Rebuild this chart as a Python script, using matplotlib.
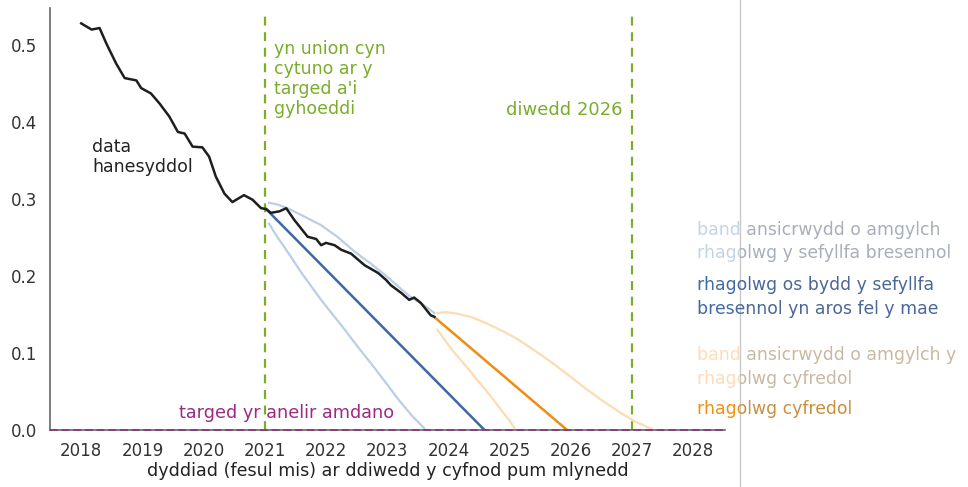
import matplotlib
matplotlib.use('Agg')
import matplotlib.pyplot as plt
from matplotlib.transforms import Bbox

# historical monthly data
hist_year = [2018.00, 2018.17, 2018.30, 2018.41, 2018.57, 2018.71, 2018.90, 2018.98,
             2019.14, 2019.28, 2019.44, 2019.58, 2019.69, 2019.82, 2019.98, 2020.09,
             2020.20, 2020.34, 2020.47, 2020.66, 2020.80, 2020.94, 2021.02, 2021.10,
             2021.24, 2021.35, 2021.48, 2021.70, 2021.84, 2021.92, 2022.00, 2022.14,
             2022.25, 2022.41, 2022.63, 2022.85, 2022.98, 2023.06, 2023.23, 2023.36,
             2023.44, 2023.55, 2023.71, 2023.77]
hist_val = [0.528, 0.520, 0.522, 0.502, 0.476, 0.457, 0.454, 0.444,
            0.437, 0.424, 0.407, 0.387, 0.385, 0.368, 0.367, 0.355,
            0.329, 0.307, 0.296, 0.305, 0.299, 0.288, 0.287, 0.282,
            0.284, 0.288, 0.273, 0.251, 0.248, 0.240, 0.243, 0.240,
            0.234, 0.229, 0.214, 0.204, 0.195, 0.188, 0.178, 0.169,
            0.172, 0.165, 0.149, 0.147]

# projection if things stay as they are (from 2021)
proj21_year = [2021.02, 2024.59]
proj21_val = [0.287, 0.0]
band21_hi_year = [2021.07, 2021.20, 2021.37, 2021.60, 2021.92, 2022.20, 2022.46,
                  2022.75, 2023.00, 2023.20, 2023.38, 2023.60, 2023.77]
band21_hi_val = [0.295, 0.293, 0.288, 0.279, 0.266, 0.250, 0.232,
                 0.215, 0.199, 0.185, 0.173, 0.162, 0.152]
band21_lo_year = [2021.07, 2021.20, 2021.35, 2021.60, 2021.92, 2022.10, 2022.27,
                  2022.50, 2022.75, 2023.00, 2023.19, 2023.40, 2023.63]
band21_lo_val = [0.268, 0.251, 0.234, 0.204, 0.169, 0.151, 0.134,
                 0.110, 0.085, 0.059, 0.039, 0.019, 0.0]

# current projection
proj_year = [2023.78, 2025.94]
proj_val = [0.146, 0.0]
band_hi_year = [2023.82, 2023.96, 2024.15, 2024.40, 2024.61, 2024.90, 2025.15, 2025.45,
                2025.70, 2026.00, 2026.24, 2026.50, 2026.78, 2027.05, 2027.36]
band_hi_val = [0.152, 0.153, 0.151, 0.146, 0.139, 0.128, 0.117, 0.101,
               0.087, 0.069, 0.054, 0.039, 0.024, 0.011, 0.0]
band_lo_year = [2023.82, 2023.95, 2024.06, 2024.20, 2024.34, 2024.48, 2024.61,
                2024.75, 2024.88, 2025.00, 2025.10]
band_lo_val = [0.130, 0.116, 0.104, 0.091, 0.078, 0.064, 0.052,
               0.038, 0.024, 0.012, 0.0]

years = list(range(2018, 2029))
yticks = [0.0, 0.1, 0.2, 0.3, 0.4, 0.5]

plt.rcParams['font.family'] = ['DejaVu Sans']

fig = plt.figure(figsize=(9.68, 4.87), dpi=100)
ax = fig.add_axes([50 / 968, 57 / 487, 675 / 968, 422 / 487])

green = '#7aad2a'
ax.axvline(2021, ymax=0.985, color=green, lw=1.6, ls=(0, (4, 3)))
ax.axvline(2027, ymax=0.985, color=green, lw=1.6, ls=(0, (4, 3)))

ax.plot(band21_hi_year, band21_hi_val, color='#bccee6', lw=1.6)
ax.plot(band21_lo_year, band21_lo_val, color='#bccee6', lw=1.6)
ax.plot(proj21_year, proj21_val, color='#3d68a6', lw=1.8)
ax.plot(band_hi_year, band_hi_val, color='#fcdcb2', lw=1.6)
ax.plot(band_lo_year, band_lo_val, color='#fcdcb2', lw=1.6)
ax.plot(proj_year, proj_val, color='#ef8c12', lw=1.8)
ax.plot(hist_year, hist_val, color='#1e1e1e', lw=1.8)

ax.set_xlim(2017.49, 2028.52)
ax.set_ylim(0, 0.548)
ax.axhline(0, color='#8c3d7c', lw=1.4, ls=(0, (4, 2)), zorder=5, clip_on=False)

ax.set_xticks(years)
ax.set_yticks(yticks)
ax.set_yticklabels([f'{v:.1f}' for v in yticks])
ax.tick_params(length=0, labelsize=12, colors='#333333', pad=9)
for s in ['top', 'right']:
    ax.spines[s].set_visible(False)
ax.spines['left'].set_color('#666666')
ax.spines['bottom'].set_color('#666666')
ax.spines['left'].set_linewidth(1.2)
ax.spines['bottom'].set_linewidth(1.2)
ax.set_xlabel('dyddiad (fesul mis) ar ddiwedd y cyfnod pum mlynedd',
              fontsize=12.6, color='#222222', labelpad=1)

ax.text(2018.18, 0.355, 'data\nhanesyddol', fontsize=12.5, color='#222222',
        va='center', linespacing=1.15)
ax.text(2021.15, 0.456, "yn union cyn\ncytuno ar y\ntarged a'i\ngyhoeddi",
        fontsize=12.5, color=green, va='center', linespacing=1.15)
ax.text(2026.85, 0.415, 'diwedd 2026', fontsize=13, color=green,
        va='center', ha='right')
ax.text(2019.6, 0.022, 'targed yr anelir amdano', fontsize=12.7,
        color='#9c2a84', va='center')

# separator line on the right
fig.add_artist(plt.Line2D([740 / 968, 740 / 968], [0, 1], color='#c8c8c8', lw=1))

# legend texts, coloured differently either side of the separator
H = 487
W = 968
left_box = Bbox([[0, 0], [740, H]])
right_box = Bbox([[740, 0], [W, H]])
legend_lines = [
    ('band ansicrwydd o amgylch', 230, '#c3d3e8', '#a8afba'),
    ('rhagolwg y sefyllfa bresennol', 253, '#c3d3e8', '#a8afba'),
    ('rhagolwg os bydd y sefyllfa', 285, '#3f6ba8', '#4a679a'),
    ('bresennol yn aros fel y mae', 309, '#3f6ba8', '#4a679a'),
    ('band ansicrwydd o amgylch y', 355, '#fddcb8', '#c9b8a2'),
    ('rhagolwg cyfredol', 379, '#fddcb8', '#c9b8a2'),
    ('rhagolwg cyfredol', 409, '#f0900f', '#c8903e'),
]
for txt, ypix, c_left, c_right in legend_lines:
    for col, box in [(c_left, left_box), (c_right, right_box)]:
        t = fig.text(697 / W, 1 - ypix / H, txt, fontsize=12.4, color=col, va='center')
        t.set_clip_on(True)
        t.set_clip_box(box)

fig.savefig('out.png', dpi=100)
